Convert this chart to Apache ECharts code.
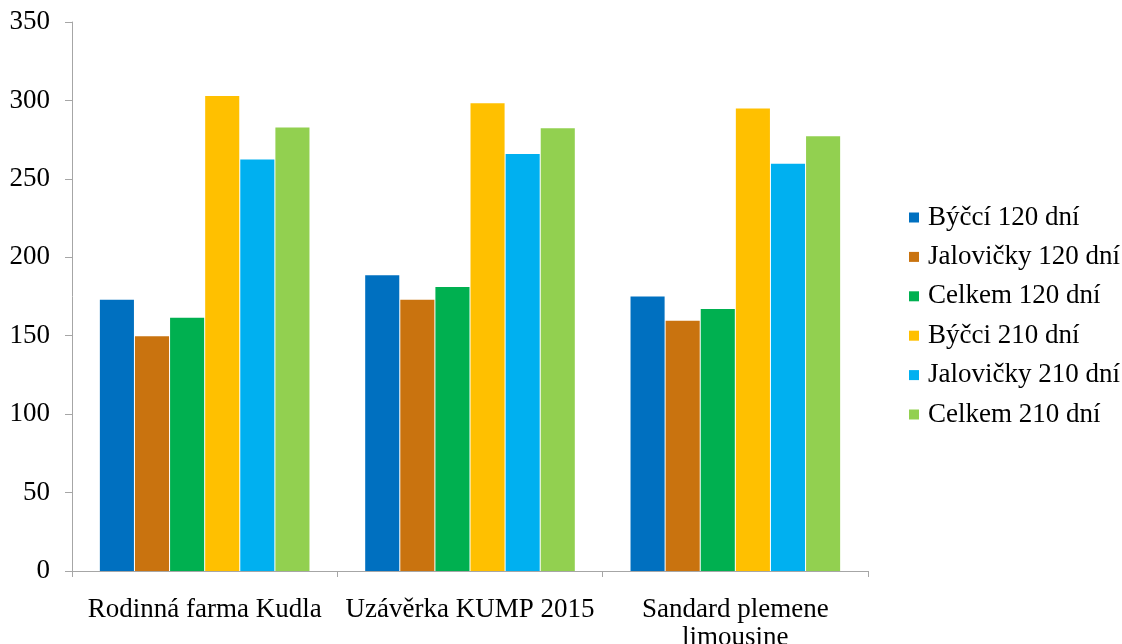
<!DOCTYPE html>
<html>
<head>
<meta charset="utf-8">
<script src="https://cdn.jsdelivr.net/npm/echarts@6/dist/echarts.min.js"></script>
<style>
  html, body { margin: 0; padding: 0; background: #fff; }
  #chart { width: 1122px; height: 644px; }
</style>
</head>
<body>
<div id="chart"></div>
<script>
// Categories (farms / reference groups)
const categories = ['Rodinná farma Kudla', 'Uzávěrka KUMP 2015', 'Sandard plemene\nlimousine'];

// Series names and values, one array per series
const seriesNames = ['Býčcí 120 dní', 'Jalovičky 120 dní', 'Celkem 120 dní', 'Býčci 210 dní', 'Jalovičky 210 dní', 'Celkem 210 dní'];
const bycci120 = [173, 188.6, 175];
const jalovicky120 = [149.6, 173, 159.6];
const celkem120 = [161.4, 181, 167];
const bycci210 = [302.9, 298.2, 294.8];
const jalovicky210 = [262.3, 265.8, 259.7];
const celkem210 = [282.7, 282.2, 277.1];
const seriesValues = [bycci120, jalovicky120, celkem120, bycci210, jalovicky210, celkem210];

// Y axis scale
const yMin = 0, yMax = 350, yStep = 50;

const colors = ['#0070C0', '#C9730F', '#00B050', '#FFC000', '#00B0F0', '#92D050'];
const font = 'Liberation Serif, Times New Roman, serif';
const axisGray = '#A6A6A6';

const chart = echarts.init(document.getElementById('chart'), null, { renderer: 'canvas' });

chart.setOption({
  animation: false,
  color: colors,
  textStyle: { fontFamily: font },
  grid: { left: 72, right: 254, top: 22, bottom: 73, containLabel: false, outerBoundsMode: 'none' },
  legend: {
    orient: 'vertical',
    left: 904,
    top: 199,
    itemWidth: 10,
    itemHeight: 10,
    itemGap: 12.4,
    icon: 'rect',
    textStyle: { fontFamily: font, fontSize: 27, color: '#000', lineHeight: 27, padding: [0, 0, 0, 4] },
    data: seriesNames
  },
  xAxis: {
    type: 'category',
    data: categories,
    axisLine: { lineStyle: { color: axisGray, width: 1 } },
    axisTick: { show: true, alignWithLabel: false, length: 6, lineStyle: { color: axisGray } },
    axisLabel: { fontFamily: font, fontSize: 27, color: '#000', margin: 25, lineHeight: 28, interval: 0 },
    splitLine: { show: false }
  },
  yAxis: {
    type: 'value',
    min: yMin,
    max: yMax,
    interval: yStep,
    axisLine: { show: true, lineStyle: { color: axisGray, width: 1 } },
    axisTick: { show: true, length: 7, lineStyle: { color: axisGray } },
    axisLabel: { fontFamily: font, fontSize: 27, color: '#000', margin: 22 },
    splitLine: { show: false }
  },
  series: seriesNames.map((name, i) => ({
    name: name,
    type: 'bar',
    data: seriesValues[i],
    barGap: '3%',
    barCategoryGap: '21%',
    itemStyle: { color: colors[i] }
  }))
});
</script>
</body>
</html>
